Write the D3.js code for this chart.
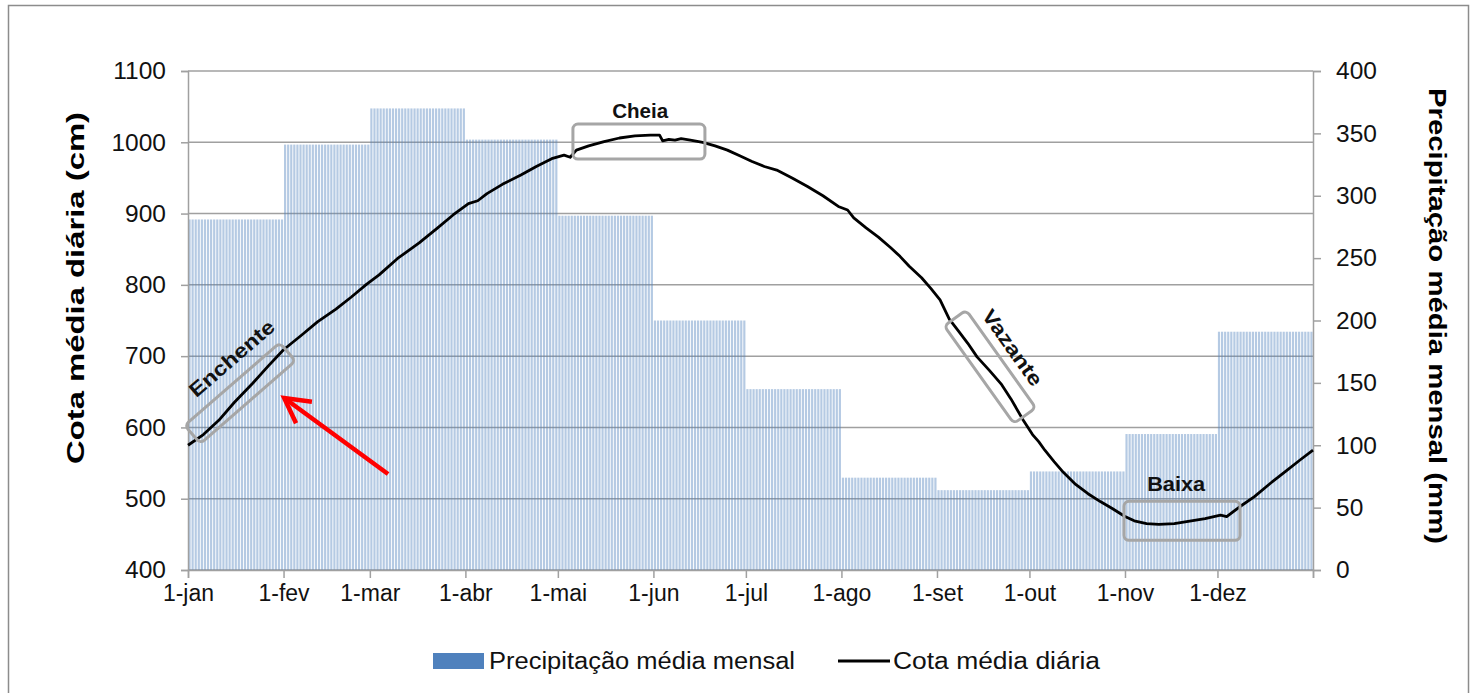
<!DOCTYPE html>
<html>
<head>
<meta charset="utf-8">
<script src="https://cdn.jsdelivr.net/npm/d3@7/dist/d3.min.js"></script>
<style>
  html, body { margin: 0; padding: 0; background: #fff; }
  svg { display: block; font-family: "Liberation Sans", Arial, sans-serif; }
</style>
</head>
<body>
<svg id="chart" width="1473" height="693"></svg>
<script>
// Month tick labels and the day-of-year on which each month starts
const meses = ["1-jan","1-fev","1-mar","1-abr","1-mai","1-jun","1-jul","1-ago","1-set","1-out","1-nov","1-dez"];
const inicioMes = [0, 31, 59, 90, 120, 151, 181, 212, 243, 273, 304, 334];
const diasAno = 365;

// Mean monthly precipitation (mm), repeated on each day of the month
const precipMensal = [281, 341, 370, 345, 284, 200, 145, 74, 64, 79, 109, 191];

// Mean daily stage (cm), sampled by day of year
const cotaDia = [0, 5, 10, 15, 21, 26, 31, 37, 42, 48, 53, 58, 62, 68, 75, 81, 86, 91, 94, 97,
  102, 108, 113, 118, 122, 124, 126, 130, 135, 140, 145, 150, 153, 154, 156, 158, 160, 163, 167, 171,
  175, 179, 183, 187, 191, 196, 201, 206, 211, 214, 216, 220, 224, 228, 231, 234, 238, 241, 244, 247,
  250, 253, 256, 260, 264, 267, 271, 274, 276, 278, 281, 284, 288, 292, 296, 300, 304, 307, 311, 315,
  320, 324, 330, 335, 337, 341, 346, 351, 356, 361, 365];
const cotaCm = [575, 590, 610, 635, 662, 686, 709, 730, 748, 766, 783, 801, 814, 837, 859, 880, 898, 914, 918, 928,
  941, 954, 966, 977, 982, 979, 989, 995, 1001, 1006, 1009, 1010, 1010, 1002, 1004, 1003, 1005, 1003, 1000, 995,
  989, 981, 973, 966, 961, 950, 938, 925, 910, 905, 894, 880, 867, 852, 840, 826, 810, 795, 779, 752,
  735, 718, 699, 680, 660, 640, 610, 590, 580, 568, 552, 537, 520, 507, 496, 486, 475, 469, 465, 464,
  465, 468, 472, 477, 475, 488, 503, 521, 538, 555, 568];

// Axis ticks
const ticksCota = [400, 500, 600, 700, 800, 900, 1000, 1100];
const ticksPrecip = [0, 50, 100, 150, 200, 250, 300, 350, 400];

// Phase annotations: box centre in data units, box size in px, rotation, label position and length
const fases = [
  { nome: "Enchente", dia: 16.9, cota: 648, w: 126, h: 24, ang: -41, tdia: 14.2, tcota: 697, tl: 106 },
  { nome: "Cheia",    dia: 146.3, cota: 1001, w: 132, h: 35, ang: 0, tdia: 146.7, tcota: 1044, tl: 56 },
  { nome: "Vazante",  dia: 260.2, cota: 685, w: 120, h: 27, ang: 54.5, tdia: 267.5, tcota: 712, tl: 89 },
  { nome: "Baixa",    dia: 322.5, cota: 469, w: 116, h: 39, ang: 0, tdia: 320.6, tcota: 521, tl: 58 }
];
// Arrow pointing at the rising limb
const seta = { de: [64.9, 534.7], para: [31.2, 641.3] };

const svg = d3.select("#chart");
const plot = { left: 188, right: 1313, top: 71, bottom: 570 };

const x = d3.scaleLinear().domain([0, diasAno]).range([plot.left, plot.right]);
const yL = d3.scaleLinear().domain([400, 1100]).range([plot.bottom, plot.top]);
const yR = d3.scaleLinear().domain([0, 400]).range([plot.bottom, plot.top]);

const grid = "#a0a0a0";

// outer frame
svg.append("rect").attr("x", 8.5).attr("y", 5.5).attr("width", 1460).attr("height", 700)
  .attr("fill", "#fff").attr("stroke", "#8c8c8c").attr("stroke-width", 1.5);

// horizontal gridlines (left scale)
svg.append("g").selectAll("line").data(ticksCota).join("line")
  .attr("x1", plot.left).attr("x2", plot.right)
  .attr("y1", d => yL(d)).attr("y2", d => yL(d))
  .attr("stroke", grid).attr("stroke-width", 1.5);

// daily bars carrying the monthly precipitation
const dias = d3.range(diasAno).map(d => {
  const m = d3.bisectRight(inicioMes, d) - 1;
  return { dia: d, p: precipMensal[m] };
});
const passo = x(1) - x(0);
svg.append("g").selectAll("rect").data(dias).join("rect")
  .attr("x", d => x(d.dia) + 0.45)
  .attr("width", passo - 0.9)
  .attr("y", d => yR(d.p))
  .attr("height", d => yR(0) - yR(d.p))
  .attr("fill", "#4f81bd").attr("fill-opacity", 0.42);

// axes
const fmt = d3.format("d");
const axL = svg.append("g").attr("transform", `translate(${plot.left},0)`)
  .call(d3.axisLeft(yL).tickValues(ticksCota).tickSize(7).tickPadding(15).tickFormat(fmt));
const axR = svg.append("g").attr("transform", `translate(${plot.right},0)`)
  .call(d3.axisRight(yR).tickValues(ticksPrecip).tickSize(8).tickPadding(15).tickFormat(fmt));
const axB = svg.append("g").attr("transform", `translate(0,${plot.bottom})`)
  .call(d3.axisBottom(x).tickValues(inicioMes.concat([diasAno])).tickSize(8).tickPadding(7)
    .tickFormat((d, i) => meses[i] || ""));
[axL, axR, axB].forEach(g => {
  g.selectAll(".domain").attr("stroke", grid).attr("stroke-width", 1.5);
  g.selectAll(".tick line").attr("stroke", grid).attr("stroke-width", 1.5);
  g.selectAll(".tick text").attr("fill", "#111")
    .attr("font-family", "'Liberation Sans', Arial, sans-serif");
});
axL.selectAll(".tick text").attr("font-size", 24.5);
axR.selectAll(".tick text").attr("font-size", 24.5);
axB.selectAll(".tick text").attr("font-size", 23);

// stage line
const linha = d3.line().x((d, i) => x(cotaDia[i])).y(d => yL(d));
svg.append("path").datum(cotaCm).attr("d", linha)
  .attr("fill", "none").attr("stroke", "#000").attr("stroke-width", 2.8)
  .attr("stroke-linejoin", "round");

// phase boxes and labels
const gF = svg.append("g");
fases.forEach(f => {
  const cx = x(f.dia), cy = yL(f.cota);
  gF.append("rect")
    .attr("x", -f.w / 2).attr("y", -f.h / 2).attr("width", f.w).attr("height", f.h)
    .attr("rx", 5).attr("ry", 5)
    .attr("transform", `translate(${cx},${cy}) rotate(${f.ang})`)
    .attr("fill", "none").attr("stroke", "#a6a6a6").attr("stroke-width", 3);
  gF.append("text")
    .attr("transform", `translate(${x(f.tdia)},${yL(f.tcota)}) rotate(${f.ang})`)
    .attr("text-anchor", "middle").attr("dominant-baseline", "central")
    .attr("font-size", 20).attr("font-weight", "bold").attr("fill", "#111")
    .attr("textLength", f.tl).attr("lengthAdjust", "spacingAndGlyphs")
    .text(f.nome);
});

// red arrow
const ax0 = x(seta.de[0]), ay0 = yL(seta.de[1]), ax1 = x(seta.para[0]), ay1 = yL(seta.para[1]);
const ang = Math.atan2(ay0 - ay1, ax0 - ax1);
const len = 28, abre = 0.5;
svg.append("line").attr("x1", ax0).attr("y1", ay0).attr("x2", ax1 + 3 * Math.cos(ang)).attr("y2", ay1 + 3 * Math.sin(ang))
  .attr("stroke", "#ff0000").attr("stroke-width", 4.5);
svg.append("path")
  .attr("d", `M${ax1 + len * Math.cos(ang - abre)},${ay1 + len * Math.sin(ang - abre)} L${ax1},${ay1} L${ax1 + len * Math.cos(ang + abre)},${ay1 + len * Math.sin(ang + abre)}`)
  .attr("fill", "none").attr("stroke", "#ff0000").attr("stroke-width", 4.5).attr("stroke-linejoin", "miter");

// axis titles
svg.append("text")
  .attr("transform", "translate(75,288) rotate(-90)")
  .attr("text-anchor", "middle").attr("dominant-baseline", "central")
  .attr("font-size", 24).attr("font-weight", "bold").attr("fill", "#000")
  .attr("textLength", 352).attr("lengthAdjust", "spacingAndGlyphs")
  .text("Cota média diária (cm)");
svg.append("text")
  .attr("transform", "translate(1437,316) rotate(90)")
  .attr("text-anchor", "middle").attr("dominant-baseline", "central")
  .attr("font-size", 24).attr("font-weight", "bold").attr("fill", "#000")
  .attr("textLength", 456).attr("lengthAdjust", "spacingAndGlyphs")
  .text("Precipitação média mensal (mm)");

// legend
const lg = svg.append("g");
lg.append("rect").attr("x", 433).attr("y", 653).attr("width", 51).attr("height", 16).attr("fill", "#4f81bd");
lg.append("text").attr("x", 489).attr("y", 661).attr("dominant-baseline", "central")
  .attr("font-size", 23).attr("fill", "#111")
  .attr("textLength", 306).attr("lengthAdjust", "spacingAndGlyphs")
  .text("Precipitação média mensal");
lg.append("line").attr("x1", 838).attr("x2", 890).attr("y1", 661).attr("y2", 661)
  .attr("stroke", "#000").attr("stroke-width", 3);
lg.append("text").attr("x", 893).attr("y", 661).attr("dominant-baseline", "central")
  .attr("font-size", 23).attr("fill", "#111")
  .attr("textLength", 207).attr("lengthAdjust", "spacingAndGlyphs")
  .text("Cota média diária");
</script>
</body>
</html>
